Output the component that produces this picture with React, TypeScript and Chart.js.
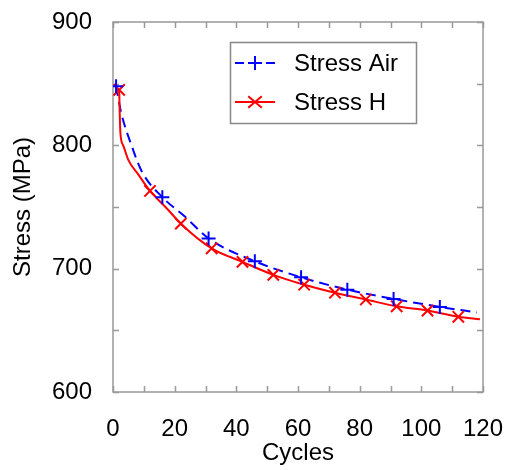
import React, { useEffect, useRef } from 'react';
import { Chart, registerables } from 'chart.js';

Chart.register(...registerables);

// Axis ranges / ticks
const xMin = 0;
const xMax = 120;
const xStep = 20;
const xMinorStep = 10;
const yMin = 600;
const yMax = 900;
const yStep = 100;
const yMinorStep = 50;

// Series labels
const seriesNames = ['Stress Air', 'Stress H'];

// Stress Air: marker points (+)
const airMarkerCycles = [1, 16, 31, 46, 61, 76, 91, 106];
const airMarkerStress = [848, 758, 724.5, 706, 693, 683, 675.5, 669];
// Stress Air: additional points
const airCurveCycles = [2.6, 6, 9.3, 23.4, 118];
const airCurveStress = [827, 800, 779, 742, 664.5];

// Stress H: marker points (x)
const hMarkerCycles = [2, 12, 22, 32, 42, 52, 62, 72, 82, 92, 102, 112];
const hMarkerStress = [845, 763, 736.5, 716.5, 705.5, 695, 687, 680.5, 675, 669.5, 666, 661];
// Stress H: additional points
const hCurveCycles = [2.4, 3.3, 5, 8.3, 17.4, 119];
const hCurveStress = [810, 800, 788, 776, 749, 659];

const FONT = "'Liberation Sans', Arial, sans-serif";
const BLUE = '#0000ff';
const RED = '#ff0000';
const AXIS = '#999999';

function toPoints(xs: number[], ys: number[]) {
  return xs.map((x, i) => ({ x, y: ys[i] }));
}
function mergeSorted(a: { x: number; y: number }[], b: { x: number; y: number }[]) {
  return [...a, ...b].sort((p, q) => p.x - q.x);
}

const framePlugin = {
  id: 'frameTicks',
  beforeDatasetsDraw(chart: any) {
    const { ctx, chartArea, scales } = chart;
    const { left, right, top, bottom } = chartArea;
    const tl = 6;
    ctx.save();
    ctx.strokeStyle = AXIS;
    ctx.lineWidth = 1.5;
    for (let v = xMin; v <= xMax; v += xMinorStep) {
      const px = Math.round(scales.x.getPixelForValue(v)) + 0.5;
      ctx.beginPath();
      ctx.moveTo(px, bottom);
      ctx.lineTo(px, bottom - tl);
      ctx.moveTo(px, top);
      ctx.lineTo(px, top + tl);
      ctx.stroke();
    }
    for (let v = yMin; v <= yMax; v += yMinorStep) {
      const py = Math.round(scales.y.getPixelForValue(v)) + 0.5;
      ctx.beginPath();
      ctx.moveTo(left, py);
      ctx.lineTo(left + tl, py);
      ctx.moveTo(right, py);
      ctx.lineTo(right - tl, py);
      ctx.stroke();
    }
    ctx.strokeRect(left, top, right - left, bottom - top);
    ctx.restore();
  },
};

function drawPlus(ctx: CanvasRenderingContext2D, x: number, y: number, r: number) {
  ctx.beginPath();
  ctx.moveTo(x - r, y);
  ctx.lineTo(x + r, y);
  ctx.moveTo(x, y - r);
  ctx.lineTo(x, y + r);
  ctx.stroke();
}
function drawX(ctx: CanvasRenderingContext2D, x: number, y: number, r: number) {
  const d = r * 0.7071;
  ctx.beginPath();
  ctx.moveTo(x - d * 1.2, y - d);
  ctx.lineTo(x + d * 1.2, y + d);
  ctx.moveTo(x - d * 1.2, y + d);
  ctx.lineTo(x + d * 1.2, y - d);
  ctx.stroke();
}

const legendPlugin = {
  id: 'customLegend',
  afterDraw(chart: any) {
    const ctx: CanvasRenderingContext2D = chart.ctx;
    ctx.save();
    const bx = 230.5, by = 42.5, bw = 186, bh = 81;
    ctx.fillStyle = '#ffffff';
    ctx.fillRect(bx, by, bw, bh);
    ctx.strokeStyle = '#888888';
    ctx.lineWidth = 1.5;
    ctx.strokeRect(bx, by, bw, bh);

    const y1 = 63;
    const y2 = 102;
    // Air sample
    ctx.strokeStyle = BLUE;
    ctx.lineWidth = 2;
    ctx.beginPath();
    ctx.moveTo(235, y1);
    ctx.lineTo(244, y1);
    ctx.moveTo(266, y1);
    ctx.lineTo(275, y1);
    ctx.stroke();
    drawPlus(ctx, 255, y1, 7);
    // H sample
    ctx.strokeStyle = RED;
    ctx.beginPath();
    ctx.moveTo(235, y2);
    ctx.lineTo(275, y2);
    ctx.stroke();
    drawX(ctx, 255, y2, 8);

    ctx.fillStyle = '#000000';
    ctx.font = `24px ${FONT}`;
    ctx.textBaseline = 'middle';
    ctx.textAlign = 'left';
    ctx.fillText(seriesNames[0], 294, y1 + 1);
    ctx.fillText(seriesNames[1], 294, y2 + 1);
    ctx.restore();
  },
};

export default function App() {
  const ref = useRef<HTMLCanvasElement>(null);

  useEffect(() => {
    const canvas = ref.current!;
    const airMarkers = toPoints(airMarkerCycles, airMarkerStress);
    const hMarkers = toPoints(hMarkerCycles, hMarkerStress);
    const airLine = mergeSorted(airMarkers, toPoints(airCurveCycles, airCurveStress));
    const hLine = mergeSorted(hMarkers, toPoints(hCurveCycles, hCurveStress));

    const chart = new Chart(canvas, {
      type: 'scatter',
      data: {
        datasets: [
          {
            label: seriesNames[0] + ' markers',
            data: airMarkers,
            showLine: false,
            pointStyle: 'cross',
            pointRadius: 7,
            pointBorderWidth: 2,
            pointBorderColor: BLUE,
            pointBackgroundColor: BLUE,
          },
          {
            label: seriesNames[1] + ' markers',
            data: hMarkers,
            showLine: false,
            pointStyle: 'crossRot',
            pointRadius: 8,
            pointBorderWidth: 2,
            pointBorderColor: RED,
            pointBackgroundColor: RED,
          },
          {
            label: seriesNames[1],
            data: hLine,
            showLine: true,
            pointRadius: 0,
            borderColor: RED,
            borderWidth: 2,
            cubicInterpolationMode: 'monotone',
          },
          {
            label: seriesNames[0],
            data: airLine,
            showLine: true,
            pointRadius: 0,
            borderColor: BLUE,
            borderWidth: 2,
            borderDash: [10, 6],
            cubicInterpolationMode: 'monotone',
          },
        ],
      },
      options: {
        animation: false,
        responsive: false,
        devicePixelRatio: 1,
        layout: { padding: { top: 22, right: 23, left: 0, bottom: 0 } },
        plugins: {
          legend: { display: false },
          tooltip: { enabled: false },
        },
        scales: {
          x: {
            type: 'linear',
            min: xMin,
            max: xMax,
            ticks: {
              stepSize: xStep,
              color: '#000',
              font: { size: 24, family: FONT },
              padding: 23,
              maxRotation: 0,
            },
            grid: { display: false, drawTicks: false },
            border: { display: false },
            title: {
              display: true,
              text: 'Cycles',
              color: '#000',
              font: { size: 24, family: FONT },
              padding: { top: 0, bottom: 2 },
            },
            afterFit: (s: any) => {
              s.height = 78;
              s.paddingLeft = 0;
              s.paddingRight = 0;
            },
          },
          y: {
            type: 'linear',
            min: yMin,
            max: yMax,
            ticks: {
              stepSize: yStep,
              color: '#000',
              font: { size: 24, family: FONT },
              padding: 21,
            },
            grid: { display: false, drawTicks: false },
            border: { display: false },
            title: {
              display: true,
              text: 'Stress (MPa)',
              color: '#000',
              font: { size: 24, family: FONT },
              padding: { top: 9, bottom: 0 },
            },
            afterFit: (s: any) => {
              s.width = 113;
              s.paddingTop = 0;
              s.paddingBottom = 0;
            },
          },
        },
      } as any,
      plugins: [framePlugin, legendPlugin],
    });
    return () => chart.destroy();
  }, []);

  return (
    <div style={{ position: 'absolute', left: 0, top: 0, width: 506, height: 470, background: '#fff' }}>
      <canvas ref={ref} width={506} height={470} style={{ display: 'block', width: 506, height: 470 }} />
    </div>
  );
}
